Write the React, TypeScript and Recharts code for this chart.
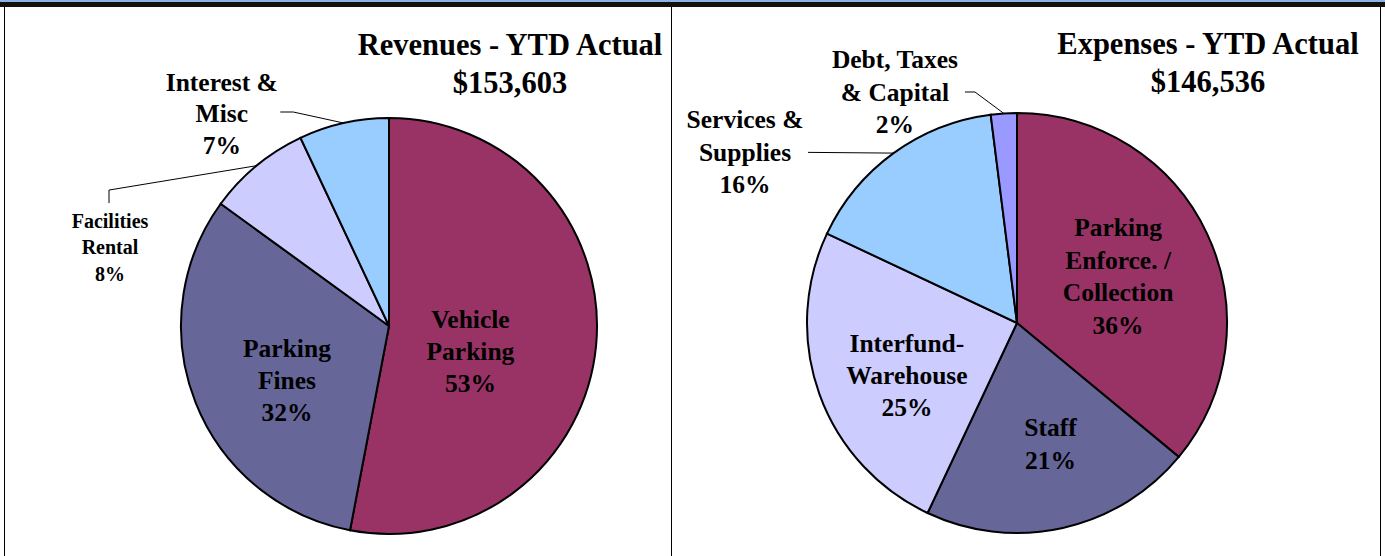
import React from 'react';
import { PieChart, Pie, Cell } from 'recharts';

// revenues
const revenueNames = ['Vehicle Parking', 'Parking Fines', 'Facilities Rental', 'Interest & Misc'];
const revenueValues = [53, 32, 8, 7];
const revenueLabelLines = [['Vehicle', 'Parking'], ['Parking', 'Fines'], ['Facilities', 'Rental'], ['Interest &', 'Misc']];
const revenueColors = ['#993366', '#666699', '#CCCCFF', '#99CCFF'];

// expenses
const expenseNames = ['Parking Enforce. / Collection', 'Staff', 'Interfund-Warehouse', 'Services & Supplies', 'Debt, Taxes & Capital'];
const expenseValues = [36, 21, 25, 16, 2];
const expenseLabelLines = [['Parking', 'Enforce. /', 'Collection'], ['Staff'], ['Interfund-', 'Warehouse'], ['Services &', 'Supplies'], ['Debt, Taxes', '& Capital']];
const expenseColors = ['#993366', '#666699', '#CCCCFF', '#99CCFF', '#9999FF'];

const revenueTitle = ['Revenues - YTD Actual', '$153,603'];
const expenseTitle = ['Expenses - YTD Actual', '$146,536'];

const revenueData = revenueNames.map((name, i) => ({ name, value: revenueValues[i] }));
const expenseData = expenseNames.map((name, i) => ({ name, value: expenseValues[i] }));

// label placement: k = distance / radius, d = clockwise shift from mid angle
type Place = { k: number; d: number; fs: number; lh: number; leader?: number[][] };

const revenuePlace: Place[] = [
  { k: 0.41, d: 11.8, fs: 25.5, lh: 32 },
  { k: 0.555, d: -6.3, fs: 25.5, lh: 32 },
  { k: 1.394, d: -34.6, fs: 20, lh: 26.5, leader: [[-1, -57], [-1, -44]] },
  { k: 1.3, d: -25.6, fs: 25.5, lh: 31.5, leader: [[71.5, -1.5], [58.5, -1.5]] },
];

const expensePlace: Place[] = [
  { k: 0.53, d: 0.5, fs: 25.5, lh: 32.5 },
  { k: 0.6, d: -2.8, fs: 25.5, lh: 33 },
  { k: 0.58, d: -5.5, fs: 25.5, lh: 32 },
  { k: 1.529, d: -21.9, fs: 25.5, lh: 32.5, leader: [[63, 0]] },
  { k: 1.242, d: -24.3, fs: 25.5, lh: 32.5, leader: [[80, -0.5], [70, -0.5]] },
];

const RAD = Math.PI / 180;
const font = "'Times New Roman', 'Liberation Serif', serif";

const makeLabel = (lines: string[][], place: Place[]) => (props: any) => {
  const { cx, cy, midAngle, outerRadius, index, value } = props;
  const p = place[index];
  const a = midAngle - p.d;
  const lx = cx + p.k * outerRadius * Math.cos(-a * RAD);
  const ly = cy + p.k * outerRadius * Math.sin(-a * RAD);
  const all = [...lines[index], `${value}%`];
  let leader = null;
  if (p.leader) {
    const ex = cx + outerRadius * Math.cos(-midAngle * RAD);
    const ey = cy + outerRadius * Math.sin(-midAngle * RAD);
    const pts = [[ex, ey], ...p.leader.map(([dx, dy]) => [lx + dx, ly + dy])];
    leader = <polyline points={pts.map((q) => q.join(',')).join(' ')} fill="none" stroke="#000" strokeWidth={1} />;
  }
  return (
    <g key={`lbl-${index}`}>
      {leader}
      <text textAnchor="middle" fontFamily={font} fontWeight="bold" fontSize={p.fs} fill="#000">
        {all.map((t, i) => (
          <tspan key={i} x={lx} y={ly + (i - (all.length - 1) / 2) * p.lh} dominantBaseline="central">
            {t}
          </tspan>
        ))}
      </text>
    </g>
  );
};

const Title = ({ lines, cx, top }: { lines: string[]; cx: number; top: number }) => (
  <div
    style={{
      position: 'absolute',
      left: cx - 250,
      top,
      width: 500,
      textAlign: 'center',
      fontFamily: font,
      fontWeight: 'bold',
      fontSize: 30.5,
      lineHeight: '38px',
      color: '#000',
    }}
  >
    {lines.map((t) => (
      <div key={t}>{t}</div>
    ))}
  </div>
);

export default function App() {
  return (
    <div style={{ position: 'absolute', left: 0, top: 0, width: 1385, height: 556, background: '#fff', overflow: 'hidden' }}>
      {/* frame */}
      <div style={{ position: 'absolute', left: 0, top: 0, width: 1385, height: 2, background: '#8DB4E2' }} />
      <div style={{ position: 'absolute', left: 0, top: 2, width: 1385, height: 5, background: '#111' }} />
      <div style={{ position: 'absolute', left: 4, top: 7, width: 1, height: 549, background: '#000' }} />
      <div style={{ position: 'absolute', left: 671, top: 7, width: 1, height: 549, background: '#000' }} />
      <div style={{ position: 'absolute', left: 1380, top: 7, width: 1, height: 549, background: '#000' }} />

      <div style={{ position: 'absolute', left: 0, top: 0 }}>
        <PieChart width={1385} height={556} margin={{ top: 0, right: 0, bottom: 0, left: 0 }}>
          <Pie
            data={revenueData}
            dataKey="value"
            nameKey="name"
            cx={389}
            cy={326}
            outerRadius={208}
            startAngle={90}
            endAngle={-270}
            labelLine={false}
            label={makeLabel(revenueLabelLines, revenuePlace)}
            isAnimationActive={false}
          >
            {revenueData.map((d, i) => (
              <Cell key={d.name} fill={revenueColors[i]} stroke="#000" strokeWidth={2} />
            ))}
          </Pie>
          <Pie
            data={expenseData}
            dataKey="value"
            nameKey="name"
            cx={1017}
            cy={323}
            outerRadius={210}
            startAngle={90}
            endAngle={-270}
            labelLine={false}
            label={makeLabel(expenseLabelLines, expensePlace)}
            isAnimationActive={false}
          >
            {expenseData.map((d, i) => (
              <Cell key={d.name} fill={expenseColors[i]} stroke="#000" strokeWidth={2} />
            ))}
          </Pie>
        </PieChart>
      </div>

      <Title lines={revenueTitle} cx={510} top={26} />
      <Title lines={expenseTitle} cx={1208} top={25} />
    </div>
  );
}
